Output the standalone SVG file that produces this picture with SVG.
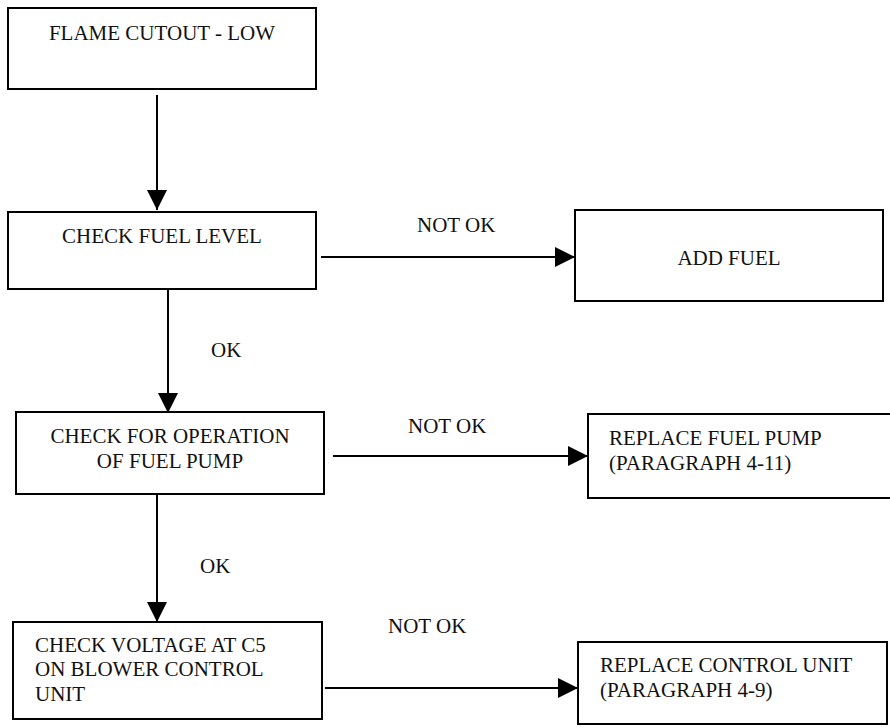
<svg xmlns="http://www.w3.org/2000/svg" width="890" height="727" viewBox="0 0 890 727">
<defs>
<style>
.box{fill:#fff;stroke:#000;stroke-width:2}
text{font-family:'Liberation Serif','Times New Roman',Times,serif;font-size:21px;fill:#111}
.c{text-anchor:middle}
.ln{stroke:#000;stroke-width:2;fill:none}
</style>
<marker id="ah" viewBox="0 0 20 20" refX="20" refY="10" markerWidth="20" markerHeight="20" markerUnits="userSpaceOnUse" orient="auto">
<path d="M0,0 L20,10 L0,20 Z" fill="#000"/>
</marker>
</defs>
<rect width="890" height="727" fill="#fff"/>
<g id="connectors" font-family="Liberation Serif, serif">
<line class="ln" x1="157" y1="95" x2="157" y2="210" marker-end="url(#ah)"/>
<line class="ln" x1="168" y1="289" x2="168" y2="413" marker-end="url(#ah)"/>
<line class="ln" x1="157" y1="494" x2="157" y2="622" marker-end="url(#ah)"/>
<line class="ln" x1="321" y1="257" x2="575" y2="257" marker-end="url(#ah)"/>
<line class="ln" x1="333" y1="456" x2="588" y2="456" marker-end="url(#ah)"/>
<line class="ln" x1="325" y1="688" x2="578" y2="688" marker-end="url(#ah)"/>
<text x="211" y="357">OK</text>
<text x="200" y="573">OK</text>
<text x="417" y="232">NOT OK</text>
<text x="408" y="433">NOT OK</text>
<text x="388" y="633">NOT OK</text>
</g>
<g id="n1">
<rect class="box" x="8" y="8" width="308" height="81"/>
<text class="c" x="162" y="40">FLAME CUTOUT - LOW</text>
</g>
<g id="n2">
<rect class="box" x="8" y="212" width="308" height="77"/>
<text class="c" x="162" y="243">CHECK FUEL LEVEL</text>
</g>
<g id="n3">
<rect class="box" x="575" y="210" width="308" height="91"/>
<text class="c" x="729" y="265">ADD FUEL</text>
</g>
<g id="n4">
<rect class="box" x="16" y="412" width="308" height="82"/>
<text class="c" x="170" y="443">CHECK FOR OPERATION</text>
<text class="c" x="170" y="468">OF FUEL PUMP</text>
</g>
<g id="n5">
<rect class="box" x="588" y="414" width="304" height="84"/>
<text x="609" y="445">REPLACE FUEL PUMP</text>
<text x="609" y="470">(PARAGRAPH 4-11)</text>
</g>
<g id="n6">
<rect class="box" x="13" y="622" width="309" height="97"/>
<text x="35" y="652">CHECK VOLTAGE AT C5</text>
<text x="35" y="676">ON BLOWER CONTROL</text>
<text x="35" y="701">UNIT</text>
</g>
<g id="n7">
<rect class="box" x="578" y="642" width="309" height="82"/>
<text x="600" y="672">REPLACE CONTROL UNIT</text>
<text x="600" y="697">(PARAGRAPH 4-9)</text>
</g>
</svg>
